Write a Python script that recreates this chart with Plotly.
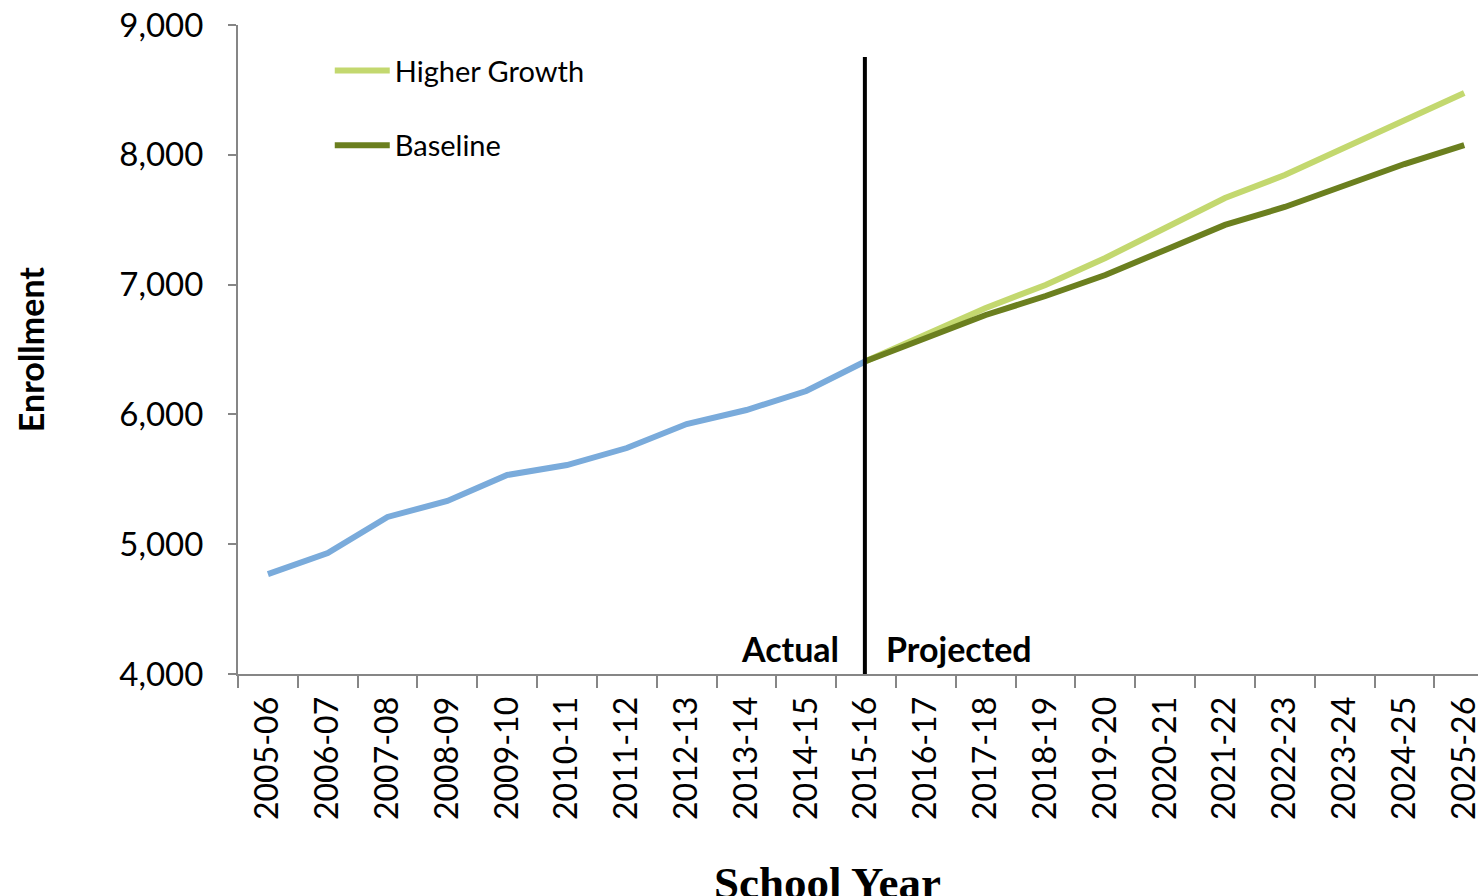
import plotly.graph_objects as go

years = ["2005-06", "2006-07", "2007-08", "2008-09", "2009-10", "2010-11", "2011-12",
         "2012-13", "2013-14", "2014-15", "2015-16", "2016-17", "2017-18", "2018-19",
         "2019-20", "2020-21", "2021-22", "2022-23", "2023-24", "2024-25", "2025-26"]

actual = [4770, 4932, 5210, 5333, 5533, 5610, 5741, 5926, 6034, 6180, 6411]
proj_years = years[10:]
higher_growth = [6411, 6619, 6820, 6997, 7205, 7436, 7667, 7844, 8052, 8268, 8476]
baseline = [6411, 6589, 6766, 6912, 7074, 7267, 7460, 7598, 7760, 7929, 8075]

y_ticks = [4000, 5000, 6000, 7000, 8000, 9000]

FONT = "Lato"

fig = go.Figure()

fig.add_trace(go.Scatter(
    x=years[:11], y=actual, mode="lines", name="Actual", showlegend=False,
    line=dict(color="#7aabdb", width=6)
))
fig.add_trace(go.Scatter(
    x=proj_years, y=higher_growth, mode="lines", name="Higher Growth", legendgroup="a",
    line=dict(color="#c3d86f", width=6)
))
fig.add_trace(go.Scatter(
    x=proj_years, y=baseline, mode="lines", name="Baseline", legendgroup="b",
    line=dict(color="#6b7f1f", width=6)
))

# divider between actual and projected
fig.add_shape(type="line", xref="x", yref="y", x0=9.98, x1=9.98, y0=3954, y1=8753,
              line=dict(color="black", width=4), layer="above")

fig.add_annotation(x=9.98, y=4200, xref="x", yref="y", text="<b>Actual</b>", showarrow=False,
                   xanchor="right", xshift=-24, font=dict(family=FONT, size=34, color="black"))
fig.add_annotation(x=9.98, y=4200, xref="x", yref="y", text="<b>Projected</b>", showarrow=False,
                   xanchor="left", xshift=19, font=dict(family=FONT, size=34, color="black"))

# axis titles
fig.add_annotation(x=-0.1672, y=0.5, xref="paper", yref="paper", text="<b>Enrollment</b>",
                   textangle=-90, showarrow=False, xanchor="center", yanchor="middle",
                   font=dict(family=FONT, size=34, color="black"))
fig.add_annotation(x=0.475, y=-0.28, xref="paper", yref="paper", text="<b>School Year</b>",
                   showarrow=False, xanchor="center", yanchor="top",
                   font=dict(family="Liberation Serif", size=45, color="black"))

fig.update_layout(
    width=1482, height=896,
    paper_bgcolor="white", plot_bgcolor="white",
    margin=dict(l=238, r=0, t=25, b=222),
    font=dict(family=FONT, size=33, color="black"),
    showlegend=True,
    legend=dict(x=0.074, y=0.969, xanchor="left", yanchor="top", bgcolor="rgba(0,0,0,0)",
                font=dict(family=FONT, size=29), tracegroupgap=34, itemwidth=55),
    xaxis=dict(type="category", range=[-0.5, 20.23], showgrid=False, zeroline=False,
               showline=True, linecolor="#868686", linewidth=2,
               ticks="outside", tickson="boundaries", ticklen=12, tickcolor="#868686", tickwidth=2,
               tickangle=-90, ticklabelstandoff=8, tickfont=dict(family=FONT, size=32)),
    yaxis=dict(range=[4000, 9000], tickvals=y_ticks, tickformat=",", showgrid=False,
               zeroline=False, showline=True, linecolor="#868686", linewidth=2,
               ticks="outside", ticklen=8, tickcolor="#868686", tickwidth=2,
               ticklabelstandoff=18, tickfont=dict(family=FONT, size=33)),
)

fig.write_html("out.html", config={"displayModeBar": False},
               post_script="document.body.style.margin='0px';")
